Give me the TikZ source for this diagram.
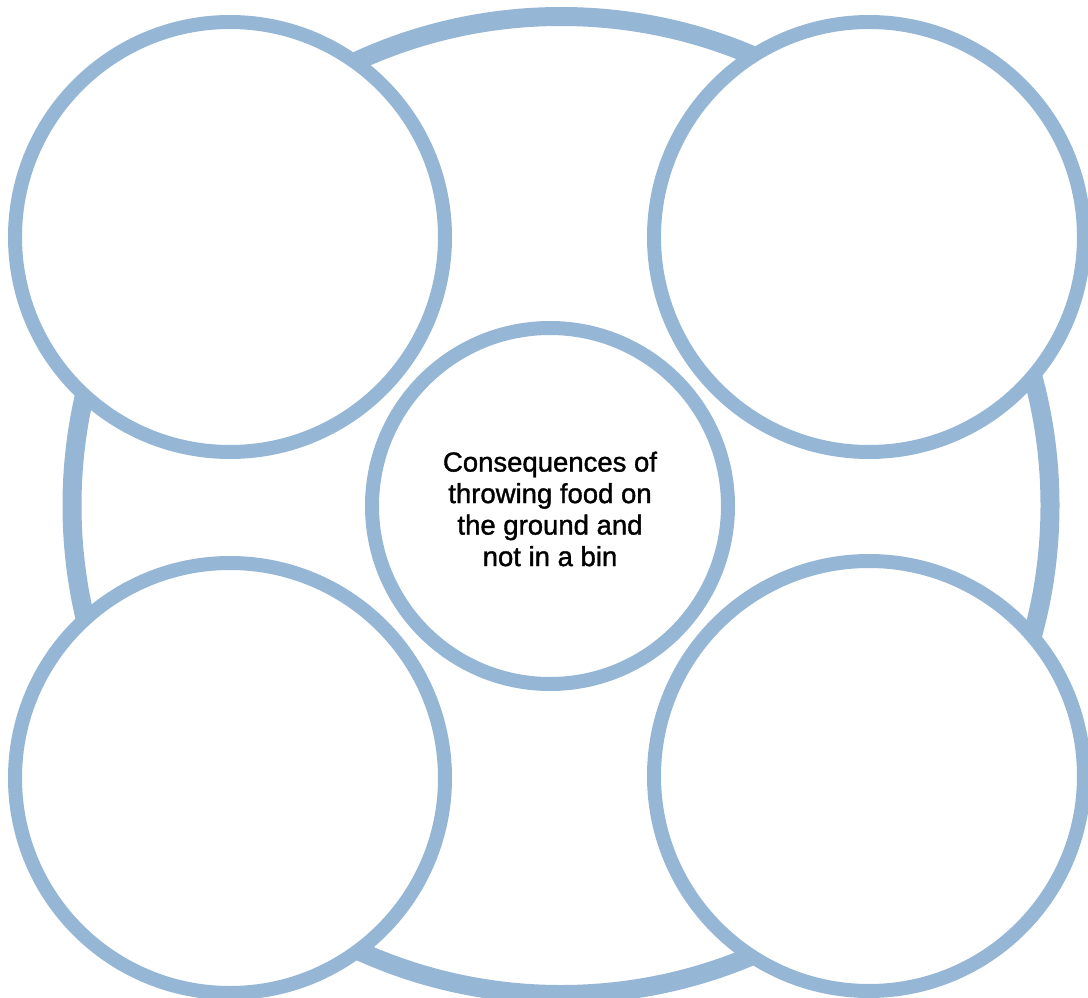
\documentclass[tikz,border=0pt]{standalone}
\usepackage{fontspec}
\setmainfont{Liberation Sans}
\newfontfamily\labelfont[FakeBold=1.3]{Liberation Sans}
\definecolor{ringblue}{RGB}{149,182,213}
\begin{document}
\begin{tikzpicture}[x=1pt,y=-1pt,
  bubble/.style={circle,draw=ringblue,line width=14pt,fill=white,inner sep=0pt},
  outerring/.style={draw=ringblue,line width=19pt}]
\useasboundingbox (0,0) rectangle (1088,998);
\clip (0,0) rectangle (1088,998);
\draw[outerring] (561,505.5) circle[radius=489pt];
\node[bubble,minimum size=430pt] (tl) at (230,237) {};
\node[bubble,minimum size=430pt] (tr) at (869,237) {};
\node[bubble,minimum size=430pt] (bl) at (230,778) {};
\node[bubble,minimum size=430pt] (br) at (869,776) {};
\node[bubble,minimum size=356pt] (c) at (550,506) {};
\node[align=center,font=\labelfont\fontsize{27.5}{31.5}\selectfont] (t) at (550,509) {Consequences of\\throwing food on\\the ground and\\not in a bin};
\end{tikzpicture}
\end{document}
